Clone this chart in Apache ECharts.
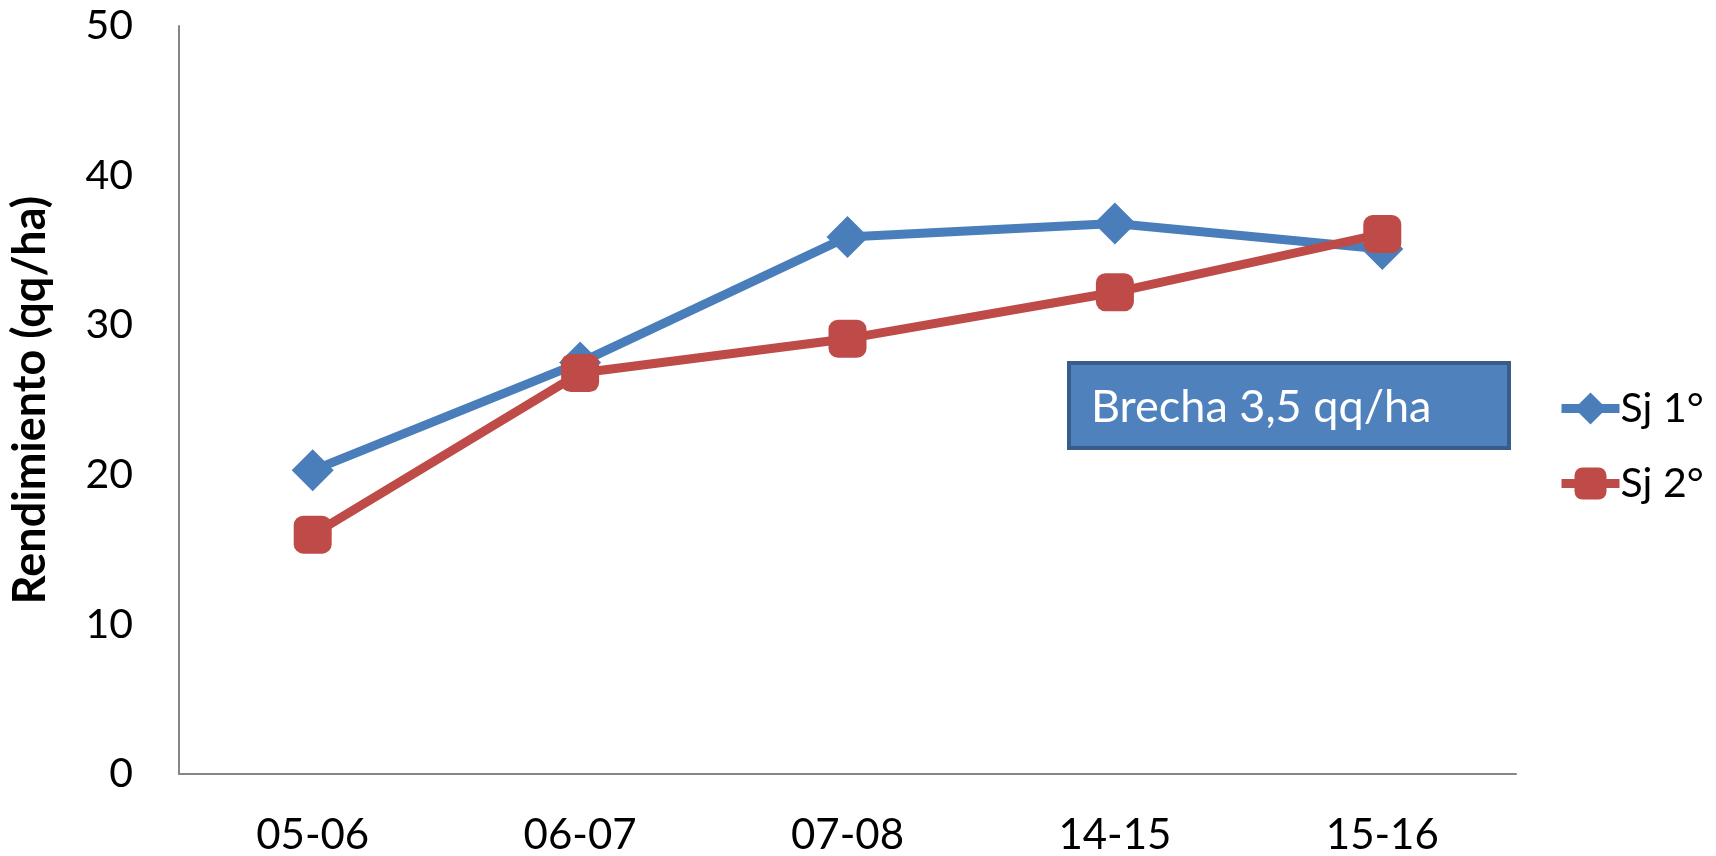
<!DOCTYPE html>
<html>
<head>
<meta charset="utf-8">
<script src="https://cdn.jsdelivr.net/npm/echarts@6/dist/echarts.min.js"></script>
<style>
  html, body { margin: 0; padding: 0; background: #fff; }
  #chart { width: 1716px; height: 856px; }
</style>
</head>
<body>
<div id="chart"></div>
<script>
// campañas
let campanas = ['05-06', '06-07', '07-08', '14-15', '15-16'];
// rendimiento (qq/ha)
let sj1 = [20.3, 27.5, 35.9, 36.8, 35.1];
let sj2 = [16.0, 26.8, 29.1, 32.2, 36.1];
let yTicks = [0, 10, 20, 30, 40, 50];

let fuente = 'Lato, "Open Sans", sans-serif';
let azul = '#4A7EBB';
let rojo = '#BE4B48';

let myChart = echarts.init(document.getElementById('chart'));

let option = {
    animation: false,
    textStyle: { fontFamily: fuente },
    grid: { left: 177, right: 200, top: 26, bottom: 82, containLabel: false },
    legend: {
        orient: 'vertical',
        left: 1552,
        top: 383,
        itemWidth: 58,
        itemHeight: 40,
        itemGap: 34,
        lineStyle: { width: 9 },
        textStyle: { fontSize: 41, color: '#000', fontFamily: fuente, padding: [0, 0, 0, -4] },
        data: ['Sj 1°', 'Sj 2°']
    },
    xAxis: {
        type: 'category',
        data: campanas,
        boundaryGap: true,
        axisLine: { lineStyle: { color: '#868686', width: 2 } },
        axisTick: { show: false },
        axisLabel: { fontSize: 42, color: '#000', margin: 40 }
    },
    yAxis: {
        type: 'value',
        min: yTicks[0],
        max: yTicks[yTicks.length - 1],
        interval: 10,
        name: 'Rendimiento (qq/ha)',
        nameLocation: 'middle',
        nameGap: 126,
        nameTextStyle: { fontSize: 45, fontWeight: 'bold', color: '#000' },
        axisLine: { show: true, lineStyle: { color: '#868686', width: 2 } },
        axisTick: { show: false },
        splitLine: { show: false },
        axisLabel: { fontSize: 41, color: '#000', margin: 46 }
    },
    graphic: [{
        type: 'group',
        left: 1067,
        top: 361,
        children: [{
            type: 'rect',
            shape: { x: 0, y: 0, width: 440, height: 85 },
            style: { fill: '#4F81BD', stroke: '#385D8A', lineWidth: 4 }
        }, {
            type: 'text',
            x: 22,
            y: 44,
            style: {
                text: 'Brecha 3,5 qq/ha',
                fill: '#fff',
                fontSize: 45,
                fontFamily: fuente,
                verticalAlign: 'middle'
            }
        }]
    }],
    series: [{
        name: 'Sj 1°',
        type: 'line',
        data: sj1,
        symbol: 'diamond',
        symbolSize: 42,
        lineStyle: { color: azul, width: 9 },
        itemStyle: { color: azul }
    }, {
        name: 'Sj 2°',
        type: 'line',
        data: sj2,
        symbol: 'roundRect',
        symbolSize: 38,
        lineStyle: { color: rojo, width: 9 },
        itemStyle: { color: rojo }
    }]
};
myChart.setOption(option);
</script>
</body>
</html>
